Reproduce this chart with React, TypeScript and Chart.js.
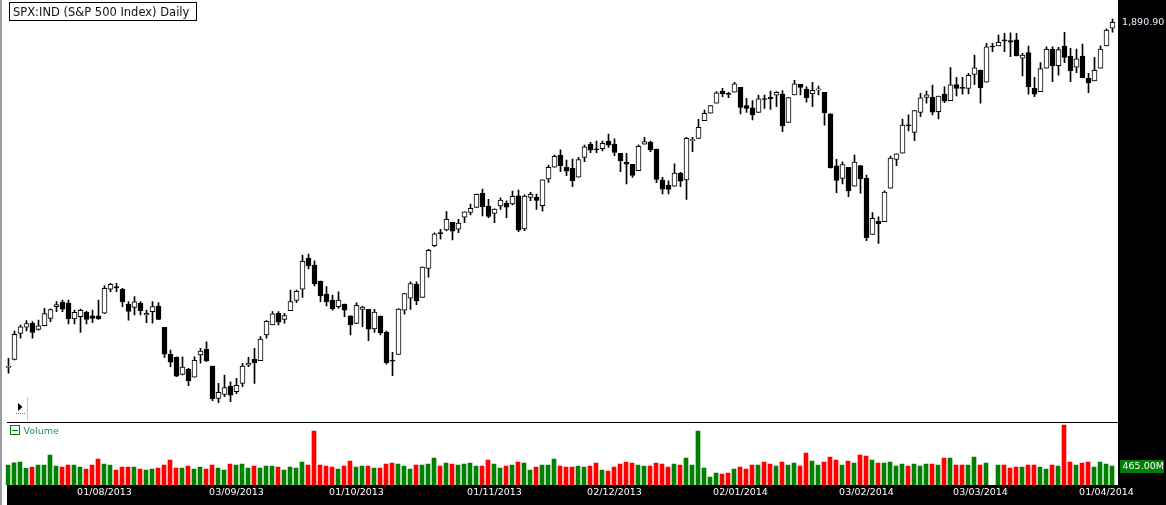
import React, { useEffect, useRef } from 'react';
import { Chart, registerables } from 'chart.js';

Chart.register(...registerables);

// ---- categories: trading days of SPX from 10 Jul 2013 to 2 Apr 2014 ----
const HOLIDAYS = ['2013-09-02', '2013-11-28', '2013-12-25', '2014-01-01', '2014-01-20', '2014-02-17'];
function tradingDays(start: string, end: string): string[] {
  const out: string[] = [];
  const d = new Date(start + 'T00:00:00Z');
  const e = new Date(end + 'T00:00:00Z');
  while (d <= e) {
    const iso = d.toISOString().slice(0, 10);
    const wd = d.getUTCDay();
    if (wd !== 0 && wd !== 6 && !HOLIDAYS.includes(iso)) {
      out.push(`${iso.slice(8, 10)}/${iso.slice(5, 7)}/${iso.slice(0, 4)}`);
    }
    d.setUTCDate(d.getUTCDate() + 1);
  }
  return out;
}
const dates = tradingDays('2013-07-10', '2014-04-02');

const tickLabels = ['01/08/2013', '03/09/2013', '01/10/2013', '01/11/2013', '02/12/2013', '02/01/2014', '03/02/2014', '03/03/2014', '01/04/2014'];

const opens = [
  1652.2, 1657.7, 1675.7, 1679.9, 1682.6, 1678.5, 1681.0, 1686.1, 1694.1, 1697.2,
  1696.5, 1685.6, 1687.2, 1690.4, 1687.8, 1687.8, 1689.6, 1706.2, 1708.0, 1706.2,
  1696.0, 1693.7, 1696.5, 1688.4, 1690.7, 1694.6, 1679.9, 1661.2, 1659.1, 1647.3,
  1650.8, 1645.3, 1660.7, 1664.6, 1653.1, 1630.7, 1633.5, 1639.3, 1635.4, 1641.1,
  1653.6, 1657.7, 1656.8, 1674.6, 1681.5, 1689.5, 1685.4, 1691.4, 1698.5, 1706.2,
  1727.6, 1723.0, 1711.9, 1702.9, 1698.8, 1694.1, 1696.0, 1687.9, 1682.6, 1692.3,
  1692.3, 1678.7, 1687.7, 1676.6, 1656.9, 1661.2, 1691.8, 1700.0, 1709.8, 1700.6,
  1720.7, 1736.3, 1745.2, 1747.2, 1752.5, 1747.7, 1756.0, 1759.4, 1762.9, 1772.6,
  1763.8, 1758.7, 1763.8, 1765.7, 1765.2, 1770.9, 1747.9, 1769.8, 1769.8, 1764.0,
  1782.5, 1790.6, 1799.1, 1790.6, 1789.9, 1783.7, 1797.5, 1806.5, 1803.2, 1803.4,
  1808.8, 1806.7, 1800.3, 1794.2, 1792.7, 1788.2, 1806.5, 1807.9, 1803.2, 1781.8,
  1778.3, 1777.6, 1786.4, 1781.8, 1809.0, 1810.6, 1822.8, 1828.0, 1834.9, 1843.4,
  1841.5, 1842.5, 1845.9, 1833.2, 1831.8, 1828.6, 1837.9, 1839.0, 1840.4, 1841.3,
  1821.7, 1840.6, 1847.9, 1844.5, 1841.3, 1844.2, 1842.5, 1827.5, 1791.6, 1782.9,
  1790.6, 1777.6, 1791.7, 1782.9, 1744.2, 1753.2, 1753.0, 1776.1, 1796.1, 1800.3,
  1819.8, 1814.8, 1828.6, 1839.0, 1839.0, 1829.0, 1841.3, 1836.7, 1847.8, 1845.8,
  1845.2, 1854.9, 1857.9, 1849.4, 1873.9, 1874.5, 1878.4, 1878.3, 1878.7, 1866.0,
  1869.9, 1845.2, 1842.9, 1859.1, 1872.2, 1860.9, 1874.5, 1867.6, 1859.8, 1867.6,
  1852.2, 1850.3, 1859.1, 1874.5, 1886.8,
];

const highs = [
  1658.4, 1677.3, 1681.5, 1684.5, 1683.8, 1684.9, 1693.0, 1692.6, 1697.6, 1698.8,
  1698.8, 1691.8, 1692.5, 1690.9, 1691.8, 1698.8, 1708.5, 1710.3, 1710.3, 1706.8,
  1697.6, 1701.1, 1697.6, 1691.8, 1697.6, 1697.0, 1679.9, 1664.2, 1659.5, 1659.5,
  1651.5, 1659.5, 1665.4, 1669.9, 1653.1, 1641.2, 1646.9, 1642.2, 1644.6, 1654.9,
  1659.1, 1665.4, 1673.4, 1684.5, 1690.7, 1690.7, 1689.6, 1705.7, 1705.7, 1729.9,
  1730.6, 1725.8, 1711.9, 1708.0, 1702.2, 1704.5, 1696.0, 1687.9, 1696.9, 1694.6,
  1692.3, 1692.3, 1687.7, 1677.3, 1662.6, 1692.9, 1703.4, 1711.4, 1711.4, 1721.8,
  1733.9, 1745.3, 1747.7, 1759.9, 1752.5, 1754.6, 1759.8, 1765.2, 1772.1, 1775.6,
  1768.4, 1761.8, 1769.5, 1767.3, 1774.2, 1774.9, 1771.6, 1773.3, 1772.1, 1782.0,
  1792.2, 1799.0, 1802.6, 1795.6, 1796.3, 1797.4, 1806.0, 1807.9, 1808.8, 1808.8,
  1813.6, 1810.2, 1800.3, 1800.3, 1792.7, 1806.1, 1811.3, 1808.8, 1803.2, 1783.7,
  1781.3, 1792.9, 1787.1, 1811.3, 1811.3, 1823.8, 1830.2, 1833.4, 1842.9, 1845.2,
  1842.5, 1849.4, 1845.9, 1838.3, 1836.7, 1840.6, 1840.6, 1843.4, 1843.0, 1843.6,
  1839.0, 1850.8, 1847.9, 1846.3, 1849.4, 1846.8, 1842.5, 1827.5, 1796.1, 1794.4,
  1790.6, 1799.1, 1791.7, 1785.2, 1759.2, 1756.4, 1774.3, 1798.4, 1799.9, 1824.0,
  1826.8, 1829.9, 1841.8, 1843.4, 1847.5, 1839.8, 1846.3, 1859.5, 1852.8, 1852.8,
  1855.6, 1868.3, 1857.9, 1876.4, 1876.4, 1882.1, 1883.3, 1883.7, 1883.3, 1869.5,
  1874.5, 1852.8, 1863.0, 1874.0, 1874.0, 1873.5, 1884.0, 1872.9, 1872.4, 1875.9,
  1855.6, 1866.7, 1874.7, 1886.3, 1893.2,
];

const lows = [
  1648.1, 1657.4, 1672.3, 1677.3, 1672.3, 1677.9, 1680.9, 1683.7, 1690.7, 1690.7,
  1682.2, 1682.2, 1676.4, 1682.2, 1683.1, 1685.4, 1689.4, 1704.5, 1704.5, 1694.1,
  1684.9, 1688.4, 1688.4, 1683.1, 1682.7, 1685.2, 1659.1, 1652.6, 1645.7, 1646.9,
  1639.5, 1645.3, 1655.0, 1656.1, 1629.1, 1627.7, 1631.9, 1628.4, 1634.0, 1638.8,
  1652.6, 1641.1, 1656.8, 1672.3, 1681.5, 1681.5, 1682.7, 1691.4, 1697.0, 1700.6,
  1720.2, 1708.5, 1697.6, 1694.6, 1691.8, 1693.0, 1687.2, 1674.6, 1682.4, 1680.3,
  1670.6, 1676.4, 1674.6, 1654.4, 1646.4, 1661.2, 1688.9, 1692.3, 1695.6, 1700.6,
  1714.5, 1735.6, 1740.8, 1746.5, 1740.3, 1745.3, 1752.3, 1757.6, 1762.9, 1756.9,
  1755.7, 1752.3, 1761.5, 1755.7, 1764.5, 1746.0, 1746.7, 1767.5, 1761.5, 1760.3,
  1780.2, 1790.6, 1787.5, 1784.8, 1777.2, 1783.7, 1794.5, 1800.7, 1800.7, 1802.0,
  1804.4, 1798.6, 1787.5, 1779.0, 1783.6, 1788.2, 1806.5, 1801.4, 1779.9, 1772.1,
  1772.1, 1777.6, 1777.2, 1768.4, 1801.4, 1810.6, 1822.8, 1828.0, 1834.9, 1839.4,
  1838.7, 1842.5, 1827.5, 1828.6, 1823.3, 1828.6, 1831.4, 1830.7, 1832.5, 1815.2,
  1821.7, 1840.6, 1840.6, 1835.6, 1832.5, 1840.6, 1819.8, 1790.0, 1773.0, 1779.0,
  1770.2, 1777.6, 1772.6, 1739.8, 1744.2, 1738.0, 1753.0, 1776.1, 1791.7, 1800.3,
  1815.7, 1809.0, 1825.6, 1834.9, 1826.8, 1824.0, 1835.3, 1836.7, 1839.9, 1841.1,
  1841.3, 1848.0, 1834.9, 1849.4, 1870.6, 1874.5, 1870.6, 1867.1, 1867.6, 1853.8,
  1841.1, 1839.4, 1842.9, 1859.1, 1849.8, 1854.4, 1862.9, 1849.8, 1856.0, 1852.4,
  1842.2, 1850.3, 1859.1, 1874.5, 1884.0,
];

const closes = [
  1652.62, 1675.02, 1680.19, 1682.50, 1676.26, 1680.91, 1689.37, 1692.09, 1695.53, 1692.39,
  1685.94, 1690.25, 1691.65, 1685.33, 1685.96, 1685.73, 1706.87, 1709.67, 1707.14, 1697.37,
  1690.91, 1697.48, 1691.42, 1689.47, 1694.16, 1685.39, 1661.32, 1655.83, 1646.06, 1652.35,
  1642.80, 1656.96, 1663.50, 1656.78, 1630.48, 1634.96, 1638.17, 1632.97, 1639.77, 1653.08,
  1655.08, 1655.17, 1671.71, 1683.99, 1689.13, 1683.42, 1687.99, 1697.60, 1704.76, 1725.52,
  1722.34, 1709.91, 1701.84, 1697.42, 1692.77, 1698.67, 1691.75, 1681.55, 1695.00, 1693.87,
  1678.66, 1690.50, 1676.12, 1655.45, 1656.40, 1692.56, 1703.20, 1710.14, 1698.06, 1721.54,
  1733.15, 1744.50, 1744.66, 1754.67, 1746.38, 1752.07, 1759.77, 1762.11, 1771.95, 1763.31,
  1756.54, 1761.64, 1767.93, 1762.97, 1770.49, 1747.15, 1770.61, 1771.89, 1767.69, 1782.00,
  1790.62, 1798.18, 1791.53, 1787.87, 1781.37, 1795.85, 1804.76, 1802.48, 1802.75, 1807.23,
  1805.81, 1800.90, 1795.15, 1792.81, 1785.03, 1805.09, 1808.37, 1802.62, 1782.22, 1775.50,
  1775.32, 1786.54, 1781.00, 1810.65, 1809.60, 1818.32, 1827.99, 1833.32, 1842.02, 1841.40,
  1841.07, 1848.36, 1831.98, 1831.37, 1826.77, 1837.88, 1837.49, 1838.13, 1842.37, 1819.20,
  1838.88, 1848.38, 1845.89, 1838.70, 1843.80, 1844.86, 1828.46, 1790.29, 1781.56, 1792.50,
  1774.20, 1794.19, 1782.59, 1741.89, 1755.20, 1751.64, 1773.43, 1797.02, 1799.84, 1819.75,
  1819.26, 1829.83, 1838.63, 1840.76, 1828.75, 1839.78, 1836.25, 1847.61, 1845.12, 1845.16,
  1854.29, 1859.45, 1845.73, 1873.91, 1873.81, 1877.03, 1878.04, 1877.17, 1867.63, 1868.20,
  1846.34, 1841.13, 1858.83, 1872.25, 1860.77, 1872.01, 1866.52, 1857.44, 1865.62, 1852.56,
  1849.04, 1857.62, 1872.34, 1885.52, 1890.90,
];

// volume in millions (one day without a volume print)
const volumes: (number | null)[] = [
  490, 546, 564, 409, 441, 490, 490, 735, 466, 441,
  490, 490, 441, 392, 490, 637, 515, 490, 368, 441,
  441, 441, 392, 368, 392, 417, 490, 613, 417, 417,
  466, 392, 441, 392, 490, 417, 368, 515, 490, 515,
  417, 466, 417, 466, 466, 441, 368, 441, 417, 564,
  490, 1323, 490, 466, 441, 392, 466, 588, 441, 466,
  466, 417, 417, 515, 539, 515, 466, 392, 490, 490,
  515, 662, 466, 539, 515, 490, 515, 539, 466, 466,
  613, 515, 417, 466, 490, 564, 539, 368, 441, 490,
  490, 637, 466, 441, 441, 466, 441, 466, 539, 368,
  343, 441, 515, 564, 539, 490, 466, 466, 539, 515,
  441, 515, 490, 662, 490, 1323, 417, 196, 294, 270,
  294, 392, 441, 392, 490, 490, 564, 515, 466, 564,
  490, 539, 466, 784, 588, 490, 564, 686, 613, 490,
  588, 539, 735, 711, 613, 539, 539, 564, 466, 515,
  466, 515, 466, 515, 515, 490, 662, 662, 490, 490,
  490, 686, 490, 539, null, 490, 490, 417, 441, 441,
  490, 490, 441, 392, 490, 466, 1470, 564, 490, 539,
  564, 441, 564, 515, 465,
];

const FONT = "'DejaVu Sans', Verdana, sans-serif";
const PRICE_MIN = 1570.78;
const PRICE_MAX = 1906.33;
const VOL_MAX = 11882.5;

export default function App() {
  const ref = useRef<HTMLCanvasElement | null>(null);

  useEffect(() => {
    const canvas = ref.current;
    if (!canvas) return;
    const n = closes.length;
    const up = closes.map((c, i) => c >= opens[i]);
    const tickIdx = tickLabels.map((l) => dates.indexOf(l));

    const decor = {
      id: 'decor',
      beforeDraw(chart: any) {
        const ctx = chart.ctx as CanvasRenderingContext2D;
        ctx.save();
        ctx.fillStyle = '#ffffff';
        ctx.fillRect(0, 0, 1166, 505);
        ctx.fillStyle = '#000000';
        ctx.fillRect(1118, 0, 48, 505);
        ctx.fillRect(7, 485, 1159, 20);
        ctx.restore();
      },
      afterDraw(chart: any) {
        const ctx = chart.ctx as CanvasRenderingContext2D;
        const yS = chart.scales.y;
        const yV = chart.scales.yv;
        ctx.save();
        // left border
        ctx.fillStyle = '#9b9ba5';
        ctx.fillRect(0, 0, 2, 505);
        // pane separator
        ctx.fillStyle = '#000';
        ctx.fillRect(7, 422, 1111, 1);
        // title box
        ctx.fillStyle = '#fff';
        ctx.fillRect(9.5, 2.5, 187, 18);
        ctx.strokeStyle = '#000';
        ctx.lineWidth = 1;
        ctx.strokeRect(9.5, 2.5, 187, 18);
        ctx.fillStyle = '#101010';
        ctx.font = `11.5px ${FONT}`;
        ctx.textBaseline = 'alphabetic';
        ctx.textAlign = 'left';
        ctx.fillText('SPX:IND (S&P 500 Index) Daily', 13, 16);
        // small play icon
        ctx.fillStyle = '#000';
        ctx.beginPath();
        ctx.moveTo(18, 403);
        ctx.lineTo(18, 411);
        ctx.lineTo(22.5, 407);
        ctx.closePath();
        ctx.fill();
        ctx.fillStyle = '#777';
        for (let x = 16; x <= 24; x += 2) ctx.fillRect(x, 413, 1, 1);
        ctx.fillStyle = '#c8c8c8';
        ctx.fillRect(27, 397, 1, 23);
        // volume legend
        ctx.strokeStyle = '#008000';
        ctx.strokeRect(10.5, 425.5, 9, 9);
        ctx.fillStyle = '#008000';
        ctx.fillRect(12, 430, 6, 1);
        ctx.fillStyle = '#1e8c5a';
        ctx.font = `9.5px ${FONT}`;
        ctx.fillText('Volume', 23.5, 434);
        // last price label
        const lastC = closes[n - 1];
        const py = yS.getPixelForValue(lastC);
        ctx.fillStyle = '#e6efff';
        ctx.font = `9.5px ${FONT}`;
        ctx.textBaseline = 'middle';
        ctx.fillText(lastC.toLocaleString('en-US', { minimumFractionDigits: 2, maximumFractionDigits: 2 }), 1122, py + 0.7);
        // last volume label
        const lastV = volumes[n - 1] as number;
        const vy = yV.getPixelForValue(lastV);
        ctx.fillStyle = '#008000';
        ctx.fillRect(1120, Math.round(vy - 6.5), 44, 13);
        ctx.fillStyle = '#ffffff';
        ctx.fillText(lastV.toFixed(2) + 'M', 1122.5, Math.round(vy - 6.5) + 6.8);
        ctx.restore();
      },
    };

    const chart = new Chart(canvas, {
      type: 'bar',
      data: {
        labels: dates,
        datasets: [
          {
            label: 'body',
            data: opens.map((o, i) => [o, closes[i]]),
            backgroundColor: up.map((u) => (u ? '#ffffff' : '#000000')),
            borderColor: '#000000',
            borderWidth: 1,
            borderSkipped: false,
            grouped: false,
            barThickness: 5,
            maxBarThickness: 5,
            minBarLength: 1,
            order: 0,
            xAxisID: 'x',
            yAxisID: 'y',
          } as any,
          {
            label: 'wick',
            data: lows.map((l, i) => [l, highs[i]]),
            backgroundColor: '#000000',
            borderWidth: 0,
            grouped: false,
            barThickness: 1,
            maxBarThickness: 1,
            order: 1,
            xAxisID: 'x',
            yAxisID: 'y',
          } as any,
          {
            label: 'Volume',
            data: volumes.map((v, i) => ({ x: i, y: v })),
            backgroundColor: up.map((u) => (u ? '#008000' : '#ff0000')),
            borderWidth: 0,
            grouped: false,
            barThickness: 4,
            maxBarThickness: 4,
            order: 2,
            xAxisID: 'xv',
            yAxisID: 'yv',
          } as any,
        ],
      },
      options: {
        responsive: false,
        animation: false,
        events: [],
        layout: { padding: { left: 5.5, right: 50.5, top: 0, bottom: 0 } },
        plugins: { legend: { display: false }, tooltip: { enabled: false } },
        scales: {
          x: {
            type: 'category',
            offset: true,
            grid: { display: false, drawTicks: false },
            border: { display: false },
            ticks: {
              autoSkip: false,
              maxRotation: 0,
              minRotation: 0,
              color: '#ffffff',
              padding: 2,
              font: { family: FONT, size: 9.5 },
              callback: (_v: any, i: number) => {
                const k = tickIdx.indexOf(i);
                return k >= 0 ? tickLabels[k] : null;
              },
            },
            afterFit: (s: any) => {
              s.height = 20;
            },
          },
          xv: { type: 'linear', display: false, offset: false, bounds: 'ticks', grace: 0, min: -2.5 / 6, max: n - 2.5 / 6 },
          y: { type: 'linear', display: false, min: PRICE_MIN, max: PRICE_MAX },
          yv: { type: 'linear', display: false, min: 0, max: VOL_MAX },
        },
      } as any,
      plugins: [decor],
    });

    return () => chart.destroy();
  }, []);

  return (
    <div style={{ position: 'absolute', left: 0, top: 0, width: 1166, height: 505 }}>
      <canvas ref={ref} width={1166} height={505} style={{ display: 'block' }} />
    </div>
  );
}
